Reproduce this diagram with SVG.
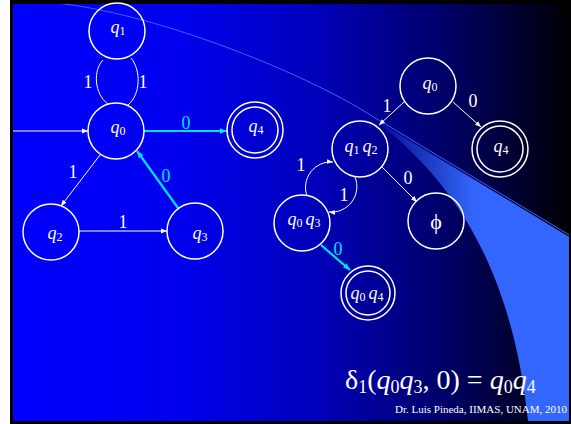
<svg xmlns="http://www.w3.org/2000/svg" width="571" height="424" viewBox="0 0 571 424">
<defs>
<linearGradient id="bg" gradientUnits="userSpaceOnUse" x1="13" y1="0" x2="571" y2="0">
<stop offset="0" stop-color="#0000FF"/>
<stop offset="0.3" stop-color="#0000EE"/>
<stop offset="0.55" stop-color="#0000B8"/>
<stop offset="0.78" stop-color="#000066"/>
<stop offset="0.92" stop-color="#000028"/>
<stop offset="1" stop-color="#000000"/>
</linearGradient>
<linearGradient id="wg" gradientUnits="userSpaceOnUse" x1="365" y1="0" x2="475" y2="0">
<stop offset="0" stop-color="#3366FF" stop-opacity="0"/>
<stop offset="1" stop-color="#3366FF" stop-opacity="1"/>
</linearGradient>
<marker id="aw" viewBox="0 0 10 10" refX="10" refY="5" markerWidth="6" markerHeight="6" markerUnits="userSpaceOnUse" orient="auto">
<path d="M0,1 L10,5 L0,9 z" fill="#FFFFFF"/>
</marker>
<marker id="ac" viewBox="0 0 10 10" refX="10" refY="5" markerWidth="7" markerHeight="7" markerUnits="userSpaceOnUse" orient="auto">
<path d="M0,1 L10,5 L0,9 z" fill="#00E0FF"/>
</marker>
<style>
.n{fill:none;stroke:#FFFFFF;stroke-width:1.5}
.e{fill:none;stroke:#FFFFFF;stroke-width:1}
.c{fill:none;stroke:#00E0FF;stroke-width:2.2}
text{font-family:"Liberation Serif","Times New Roman",serif;fill:#FFFFFF}
.nl{font-size:18px;text-anchor:middle}
.el{font-size:18px;text-anchor:middle}
.cl{font-size:18px;text-anchor:middle;fill:#00E0FF}
.i{font-style:italic}
.s{font-size:12px}
.eq{font-size:28px}
.es{font-size:18px}
.ft{font-size:11px;text-anchor:end}
</style>
</defs>

<!-- background -->
<rect x="0" y="0" width="571" height="424" fill="#FFFFFF"/>
<rect x="10" y="0" width="561" height="424" fill="#000000"/>
<rect x="13" y="4" width="556" height="417" fill="url(#bg)"/>
<path d="M372,118 L571,238 L571,421 L528,421 C510,250 440,170 372,118 Z" fill="url(#wg)"/>
<path d="M55,3 C150,12 300,70 372,116 L571,236" fill="none" stroke="#3366FF" stroke-width="1"/>
<rect x="0" y="0" width="10" height="424" fill="#FFFFFF"/>
<rect x="10" y="0" width="561" height="4" fill="#000000"/>
<rect x="10" y="421" width="561" height="3" fill="#000000"/>
<rect x="10" y="0" width="3" height="424" fill="#000000"/>
<rect x="569" y="0" width="2" height="424" fill="#000000"/>

<!-- connectors -->
<g id="connectors">
<path class="e" d="M13,131 L88,131" marker-end="url(#aw)"/>
<path class="e" d="M103,60 C93,70 94,94 108,104"/>
<path class="e" d="M131,58 C141,70 141,94 128,105"/>
<path class="c" d="M144,131 L227,131" marker-end="url(#ac)"/>
<path class="e" d="M100,155 L61,206" marker-end="url(#aw)"/>
<path class="c" d="M178,208 L137,151" marker-end="url(#ac)"/>
<path class="e" d="M79,231 L167,231" marker-end="url(#aw)"/>

<path class="e" d="M404,102 L379,125" marker-end="url(#aw)"/>
<path class="e" d="M453,102 L481,127" marker-end="url(#aw)"/>
<path class="e" d="M382,167 L417,202" marker-end="url(#aw)"/>
<path class="e" d="M307,196 A25.5,25.5 0 0 1 333,162" marker-end="url(#aw)"/>
<path class="e" d="M355,177 A25.5,25.5 0 0 1 329,212" marker-end="url(#aw)"/>
<path class="c" d="M321,245 L350,270" marker-end="url(#ac)"/>

<text class="el" x="88" y="88">1</text>
<text class="el" x="143" y="88">1</text>
<text class="cl" x="186" y="129">0</text>
<text class="el" x="73" y="178">1</text>
<text class="cl" x="166" y="182">0</text>
<text class="el" x="123" y="228">1</text>
<text class="el" x="387" y="112">1</text>
<text class="el" x="473" y="107">0</text>
<text class="el" x="408" y="184">0</text>
<text class="el" x="301" y="171">1</text>
<text class="el" x="344" y="201">1</text>
<text class="cl" x="338" y="255">0</text>
</g>

<!-- left automaton -->
<g id="L_q1">
<circle class="n" cx="117" cy="31" r="28"/>
<text class="nl" x="118" y="33"><tspan class="i">q</tspan><tspan class="s" dy="2">1</tspan></text>
</g>
<g id="L_q0">
<circle class="n" cx="116" cy="131" r="28"/>
<text class="nl" x="118" y="133"><tspan class="i">q</tspan><tspan class="s" dy="2">0</tspan></text>
</g>
<g id="L_q4">
<circle class="n" cx="255" cy="130" r="28"/>
<circle class="n" cx="255" cy="130" r="23"/>
<text class="nl" x="256" y="132"><tspan class="i">q</tspan><tspan class="s" dy="2">4</tspan></text>
</g>
<g id="L_q2">
<circle class="n" cx="51" cy="232" r="28"/>
<text class="nl" x="55" y="239"><tspan class="i">q</tspan><tspan class="s" dy="2">2</tspan></text>
</g>
<g id="L_q3">
<circle class="n" cx="195" cy="231" r="28"/>
<text class="nl" x="200" y="239"><tspan class="i">q</tspan><tspan class="s" dy="2">3</tspan></text>
</g>

<!-- right automaton -->
<g id="R_q0">
<circle class="n" cx="428" cy="86" r="28"/>
<text class="nl" x="430" y="89"><tspan class="i">q</tspan><tspan class="s" dy="2">0</tspan></text>
</g>
<g id="R_q1q2">
<circle class="n" cx="360" cy="149" r="28"/>
<text class="nl" x="361" y="152"><tspan class="i">q</tspan><tspan class="s" dy="2">1 </tspan><tspan class="i" dy="-2">q</tspan><tspan class="s" dy="2">2</tspan></text>
</g>
<g id="R_q4">
<circle class="n" cx="500" cy="149" r="28"/>
<circle class="n" cx="500" cy="149" r="23"/>
<text class="nl" x="501" y="152"><tspan class="i">q</tspan><tspan class="s" dy="2">4</tspan></text>
</g>
<g id="R_q0q3">
<circle class="n" cx="302" cy="223" r="28"/>
<text class="nl" x="304" y="225"><tspan class="i">q</tspan><tspan class="s" dy="2">0 </tspan><tspan class="i" dy="-2">q</tspan><tspan class="s" dy="2">3</tspan></text>
</g>
<g id="R_phi">
<circle class="n" cx="436" cy="221" r="28"/>
<text class="nl" x="436" y="229" style="font-size:22px">ϕ</text>
</g>
<g id="R_q0q4">
<circle class="n" cx="368" cy="293" r="27"/>
<circle class="n" cx="368" cy="293" r="22"/>
<text class="nl" x="367" y="299"><tspan class="i">q</tspan><tspan class="s" dy="2">0 </tspan><tspan class="i" dy="-2">q</tspan><tspan class="s" dy="2">4</tspan></text>
</g>

<!-- equation and footer -->
<text class="eq" x="345" y="389">δ<tspan class="es" dy="4">1</tspan><tspan dy="-4">(</tspan><tspan class="i">q</tspan><tspan class="es" dy="4">0</tspan><tspan class="i" dy="-4">q</tspan><tspan class="es" dy="4">3</tspan><tspan dy="-4">, 0) = </tspan><tspan class="i">q</tspan><tspan class="es" dy="4">0</tspan><tspan class="i" dy="-4">q</tspan><tspan class="es" dy="4">4</tspan></text>
<text class="ft" x="567" y="413">Dr. Luis Pineda, IIMAS, UNAM, 2010</text>
</svg>
